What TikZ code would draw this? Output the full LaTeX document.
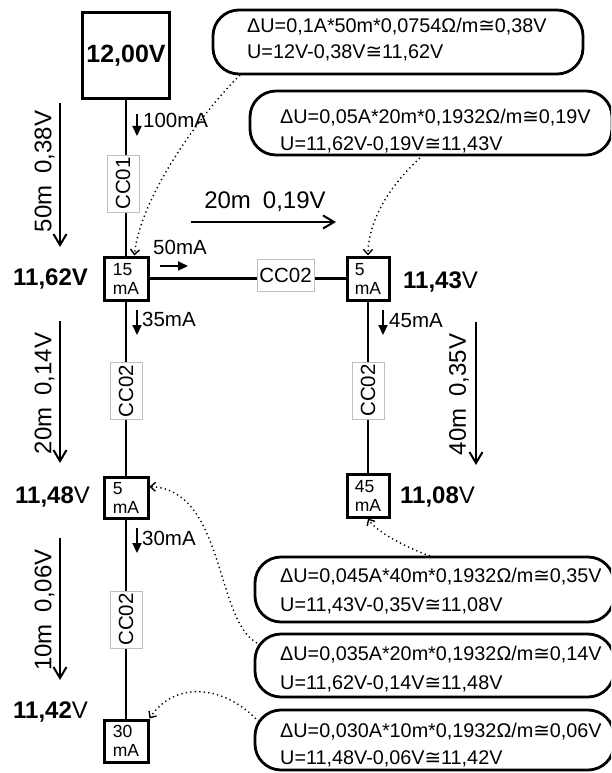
\documentclass[tikz,border=0pt]{standalone}
\usepackage{fontspec}
\setmainfont{Liberation Sans}
\newfontfamily\symf{DejaVu Sans}
\usetikzlibrary{arrows.meta}
\newcommand\apeq{{\symf ≅}}
\begin{document}
\begin{tikzpicture}[x=1pt,y=-1pt,
  box/.style={draw, line width=3pt, fill=white, inner sep=0pt, align=left, font=\fontsize{17.5}{19}\selectfont},
  ccbox/.style={draw=black!25, line width=0.8pt, fill=white, inner sep=0pt, minimum width=57pt, minimum height=32pt, font=\fontsize{20.5}{22}\selectfont},
  wire/.style={line width=2.8pt},
  bubble/.style={draw, line width=2.8pt, rounded corners=26pt, inner sep=0pt},
  btext/.style={anchor=west, inner sep=0pt, text depth=0pt, font=\fontsize{19.8}{24}\selectfont},
  vlab/.style={anchor=west, inner sep=0pt, text depth=0pt, font=\bfseries\fontsize{24}{28}\selectfont},
  cur/.style={line width=2.2pt, -{Triangle[length=10pt,width=9pt]}},
  curlab/.style={anchor=west, inner sep=0pt, text depth=0pt, font=\fontsize{20.5}{24}\selectfont},
  drop/.style={line width=2pt, -{Straight Barb[length=11pt,width=13pt]}},
  droplab/.style={inner sep=0pt, text depth=0pt, font=\fontsize{24}{28}\selectfont},
  note/.style={line width=1.4pt, dash pattern=on 1.3pt off 3.2pt, -{Straight Barb[length=5pt,width=9pt]}}
]
\useasboundingbox (0,0) rectangle (611,773);
\clip (0,0) rectangle (611,773);

% main boxes
\node[box, minimum width=87pt, minimum height=86pt, font=\bfseries\fontsize{25}{28}\selectfont] (src) at (126,56) {12,00V};
\node[box, minimum width=44pt, minimum height=43pt] (n1) at (126,278.5) {15\\mA};
\node[box, minimum width=42pt, minimum height=43pt] (n2) at (368,278.5) {5\\mA};
\node[box, minimum width=44pt, minimum height=41pt] (n3) at (126,497.5) {5\\mA};
\node[box, minimum width=42pt, minimum height=43pt] (n4) at (368,495.5) {45\\mA};
\node[box, minimum width=44pt, minimum height=42pt] (n5) at (126,741) {30\\mA};

% wires
\draw[wire] (src) -- (n1);
\draw[wire] (n1) -- (n2);
\draw[wire] (n1) -- (n3);
\draw[wire] (n3) -- (n5);
\draw[wire] (n2) -- (n4);

% cable labels
\node[ccbox, rotate=90] (c1) at (123,183.5) {CC01};
\node[ccbox] (c2) at (285.5,275.5) {CC02};
\node[ccbox, rotate=90] (c3) at (126,391) {CC02};
\node[ccbox, rotate=90] (c4) at (368,390.5) {CC02};
\node[ccbox, rotate=90] (c5) at (126,619.5) {CC02};

% node voltages
\node[vlab] (v1) at (13,277) {11,62V};
\node[vlab] (v2) at (403,280) {11,43\mdseries V};
\node[vlab] (v3) at (15,495) {11,48\mdseries V};
\node[vlab] (v4) at (400,495) {11,08\mdseries V};
\node[vlab] (v5) at (13,710) {11,42\mdseries V};

% currents
\draw[cur] (137,114) -- (137,136);
\node[curlab] (i1) at (143,120) {100mA};
\draw[cur] (160,266) -- (188,266);
\node[curlab, anchor=center] (i2) at (180,247) {50mA};
\draw[cur] (137,310) -- (137,335);
\node[curlab] (i3) at (142,319) {35mA};
\draw[cur] (383,310) -- (383,335);
\node[curlab] (i4) at (389,320) {45mA};
\draw[cur] (137,528) -- (137,553);
\node[curlab] (i5) at (142,538) {30mA};

% voltage drops
\draw[drop] (60,103) -- (60,247);
\node[droplab, rotate=90] (d1) at (43,171.5) {50m\hspace{12pt}0,38V};
\draw[drop] (60,321) -- (60,463);
\node[droplab, rotate=90] (d2) at (43,393.5) {20m\hspace{12pt}0,14V};
\draw[drop] (60,538) -- (60,680);
\node[droplab, rotate=90] (d3) at (43,610) {10m\hspace{12pt}0,06V};
\draw[drop] (476,322) -- (476,465);
\node[droplab, rotate=90] (d4) at (457.5,394.5) {40m\hspace{12pt}0,35V};
\draw[drop] (191,222) -- (336,222);
\node[droplab] (d5) at (265,200) {20m\hspace{12pt}0,19V};

% bubbles
\node[bubble, minimum width=370pt, minimum height=64pt] (b1) at (398,42) {};
\node[btext] (t1a) at (247,25) {ΔU=0,1A*50m*0,0754Ω/m\apeq0,38V};
\node[btext] (t1b) at (247,52) {U=12V-0,38V\apeq11,62V};
\node[bubble, minimum width=362pt, minimum height=64pt] (b2) at (431,123) {};
\node[btext] (t2a) at (280,116) {ΔU=0,05A*20m*0,1932Ω/m\apeq0,19V};
\node[btext] (t2b) at (280,143.5) {U=11,62V-0,19V\apeq11,43V};
\node[bubble, minimum width=359pt, minimum height=65pt] (b3) at (434.5,589.5) {};
\node[btext] (t3a) at (280,575.5) {ΔU=0,045A*40m*0,1932Ω/m\apeq0,35V};
\node[btext] (t3b) at (280,604.5) {U=11,43V-0,35V\apeq11,08V};
\node[bubble, minimum width=359pt, minimum height=63pt] (b4) at (434.5,665.5) {};
\node[btext] (t4a) at (280,653) {ΔU=0,035A*20m*0,1932Ω/m\apeq0,14V};
\node[btext] (t4b) at (280,682.5) {U=11,62V-0,14V\apeq11,48V};
\node[bubble, minimum width=359pt, minimum height=60pt] (b5) at (434.5,740) {};
\node[btext] (t5a) at (280,730.5) {ΔU=0,030A*10m*0,1932Ω/m\apeq0,06V};
\node[btext] (t5b) at (280,757.5) {U=11,48V-0,06V\apeq11,42V};

% dotted pointers
\coordinate (p1) at (240,75);
\coordinate (p2) at (420,158);
\coordinate (p3) at (257,643);
\coordinate (p4) at (259,722);
\coordinate (p5) at (430,556);
\draw[note] (p1) .. controls (195,120) and (140,200) .. (n1.70);
\draw[note] (p2) .. controls (385,190) and (368,225) .. (n2.north);
\draw[note] (p3) .. controls (215,620) and (225,490) .. (n3.25);
\draw[note] (p4) .. controls (225,685) and (175,680) .. (n5.north east);
\draw[note] (p5) .. controls (400,545) and (375,530) .. (n4.south);
\end{tikzpicture}
\end{document}
